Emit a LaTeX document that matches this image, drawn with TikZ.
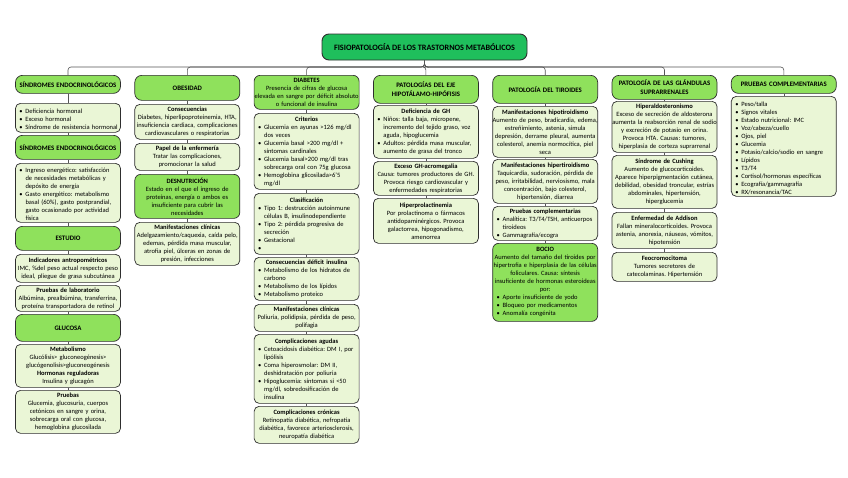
\documentclass[tikz,border=0pt]{standalone}
\usepackage{fontspec}
\setmainfont{Carlito}
\frenchspacing
\definecolor{hdrc}{HTML}{8FE15C}
\definecolor{boxc}{HTML}{EAF6D6}
\definecolor{titlec}{HTML}{1FBF5C}
\definecolor{bordc}{HTML}{2E2E2E}
\definecolor{linec}{HTML}{555555}
\newcommand{\bitem}{\par\leftskip=14.5pt\noindent\hspace*{-6pt}\makebox[6pt][l]{\textbullet}}
\newcommand{\nl}{\hfil\break}
\newcommand{\ctit}[1]{{\centering\textbf{#1}\par}}
\newcommand{\bx}[6]{\node[#2, minimum height={#5-#4}, anchor=north] (#1) at (#3,#4) {#6\par};}
\begin{document}
\begin{tikzpicture}[x=1pt,y=-1pt,
  base/.style={draw=bordc, line width=0.7pt, rounded corners=5pt, text width=114pt, inner xsep=-4.5pt, inner ysep=1pt, font=\fontsize{6.5}{8.0}\selectfont},
  hdr/.style={base, fill=hdrc, rounded corners=7pt, align=center, font=\bfseries\fontsize{6.8}{8.6}\selectfont},
  cbox/.style={base, fill=boxc, align=center},
  lbox/.style={base, fill=boxc, execute at begin node={\raggedright\hyphenpenalty=10000}},
  dbox/.style={base, fill=hdrc, rounded corners=6pt, align=center},
  dlbox/.style={base, fill=hdrc, rounded corners=6pt, execute at begin node={\raggedright\hyphenpenalty=10000}},
  conn/.style={draw=linec, line width=0.6pt},
  titlebox/.style={draw=bordc, line width=0.9pt, fill=titlec, rounded corners=7pt, minimum width=205pt, minimum height=26pt, font=\bfseries\fontsize{8.2}{9}\selectfont}
]
\useasboundingbox[fill=white] (0,0) rectangle (848,477);
\def\xA{68}\def\xB{187.3}\def\xC{306.6}\def\xD{425.9}\def\xE{545.2}\def\xF{664.5}\def\xG{783.8}

\node[titlebox] (title) at (424.5,47) {FISIOPATOLOGÍA DE LOS TRASTORNOS METABÓLICOS};
\coordinate (bus) at (424.5,67);

% Column 1
\bx{h1a}{hdr}{\xA}{75}{93}{SÍNDROMES ENDOCRINOLÓGICOS}
\bx{b1a}{lbox}{\xA}{103}{132}{\bitem Deficiencia hormonal\bitem Exceso hormonal\bitem Síndrome de resistencia hormonal}
\bx{h1b}{hdr}{\xA}{135}{159}{SÍNDROMES ENDOCRINOLÓGICOS}
\bx{b1b}{lbox}{\xA}{163}{222}{\bitem Ingreso energético: satisfacción\nl de necesidades metabólicas y\nl depósito de energía\bitem Gasto energético: metabolismo\nl basal (60\%), gasto postprandial,\nl gasto ocasionado por actividad\nl física}
\bx{h1c}{hdr}{\xA}{226}{250}{ESTUDIO}
\bx{b1c}{cbox}{\xA}{254}{282}{\textbf{Indicadores antropométricos}\\IMC, \%del peso actual respecto peso\\ideal, pliegue de grasa subcutánea}
\bx{b1d}{cbox}{\xA}{285}{311}{\textbf{Pruebas de laboratorio}\\Albúmina, prealbúmina, transferrina,\\proteína transportadora de retinol}
\bx{h1d}{hdr}{\xA}{314}{341}{GLUCOSA}
\bx{b1e}{cbox}{\xA}{344}{387}{\textbf{Metabolismo}\\Glucólisis> gluconeogénesis>\\glucógenolisis>gluconeogénesis\\\textbf{Hormonas reguladoras}\\Insulina y glucagón}
\bx{b1f}{cbox}{\xA}{390}{433}{\textbf{Pruebas}\\Glucemia, glucosuria, cuerpos\\cetónicos en sangre y orina,\\sobrecarga oral con glucosa,\\hemoglobina glucosilada}

% Column 2
\bx{h2a}{hdr}{\xB}{75}{100}{OBESIDAD}
\bx{b2a}{cbox}{\xB}{104}{139}{\textbf{Consecuencias}\\Diabetes, hiperlipoproteinemia, HTA,\\insuficiencia cardiaca, complicaciones\\cardiovasculares o respiratorias}
\bx{b2b}{cbox}{\xB}{143}{170}{\textbf{Papel de la enfermería}\\Tratar las complicaciones,\\promocionar la salud}
\bx{h2b}{dbox}{\xB}{174}{218}{\textbf{DESNUTRICIÓN}\\Estado en el que el ingreso de\\proteínas, energía o ambos es\\insuficiente para cubrir las\\necesidades}
\bx{b2c}{cbox}{\xB}{222}{265}{\textbf{Manifestaciones clínicas}\\Adelgazamiento/caquexia, caída pelo,\\edemas, pérdida masa muscular,\\atrofia piel, úlceras en zonas de\\presión, infecciones}

% Column 3
\bx{h3a}{dbox}{\xC}{75}{109}{\textbf{DIABETES}\\Presencia de cifras de glucosa\\elevada en sangre por déficit absoluto\\o funcional de insulina}
\bx{b3a}{lbox}{\xC}{113}{189}{\ctit{Criterios}\bitem Glucemia en ayunas >126 mg/dl\nl dos veces\bitem Glucemia basal >200 mg/dl +\nl síntomas cardinales\bitem Glucemia basal>200 mg/dl tras\nl sobrecarga oral con 75g glucosa\bitem Hemoglobina glicosilada>6'5\nl mg/dl}
\bx{b3b}{lbox}{\xC}{193}{254}{\ctit{Clasificación}\bitem Tipo 1: destrucción autoinmune\nl células B, insulinodependiente\bitem Tipo 2: pérdida progresiva de\nl secreción\bitem Gestacional\bitem\mbox{}}
\bx{b3c}{lbox}{\xC}{257}{300}{\ctit{Consecuencias déficit insulina}\bitem Metabolismo de los hidratos de\nl carbono\bitem Metabolismo de los lípidos\bitem Metabolismo proteico}
\bx{b3d}{cbox}{\xC}{304}{331}{\textbf{Manifestaciones clínicas}\\Poliuria, polidipsia, pérdida de peso,\\polifagia}
\bx{b3e}{lbox}{\xC}{334}{403}{\ctit{Complicaciones agudas}\bitem Cetoacidosis diabética: DM I, por\nl lipólisis\bitem Coma hiperosmolar: DM II,\nl deshidratación por poliuria\bitem Hipoglucemia: síntomas si <50\nl mg/dl, sobredosificación de\nl insulina}
\bx{b3f}{cbox}{\xC}{406}{443}{\textbf{Complicaciones crónicas}\\Retinopatía diabética, nefropatía\\diabética, favorece arteriosclerosis,\\neuropatía diabética}

% Column 4
\bx{h4a}{hdr}{\xD}{75}{103}{PATOLOGÍAS DEL EJE\\HIPOTÁLAMO-HIPÓFISIS}
\bx{b4a}{lbox}{\xD}{105}{158}{\ctit{Deficiencia de GH}\bitem Niños: talla baja, micropene,\nl incremento del tejido graso, voz\nl aguda, hipoglucemia\bitem Adultos: pérdida masa muscular,\nl aumento de grasa del tronco}
\bx{b4b}{cbox}{\xD}{161}{195}{\textbf{Exceso GH-acromegalia}\\Causa: tumores productores de GH.\\Provoca riesgo cardiovascular y\\enfermedades respiratorias}
\bx{b4c}{cbox}{\xD}{198}{243}{\textbf{Hiperprolactinemia}\\Por prolactinoma o fármacos\\antidopaminérgicos. Provoca\\galactorrea, hipogonadismo,\\amenorrea}

% Column 5
\bx{h5a}{hdr}{\xE}{75}{103}{PATOLOGÍA DEL TIROIDES}
\bx{b5a}{cbox}{\xE}{106}{157}{\textbf{Manifestaciones hipotiroidismo}\\Aumento de peso, bradicardia, edema,\\estreñimiento, astenia, simula\\depresión, derrame pleural, aumenta\\colesterol, anemia normocítica, piel\\seca}
\bx{b5b}{cbox}{\xE}{159}{203}{\textbf{Manifestaciones hipertiroidismo}\\Taquicardia, sudoración, pérdida de\\peso, irritabilidad, nerviosismo, mala\\concentración, bajo colesterol,\\hipertensión, diarrea}
\bx{b5c}{lbox}{\xE}{206}{240}{\ctit{Pruebas complementarias}\bitem Analítica: T3/T4/TSH, anticuerpos\nl tiroideos\bitem Gammagrafía/ecogra}
\bx{h5b}{dlbox}{\xE}{243}{321}{{\centering\textbf{BOCIO}\\Aumento del tamaño del tiroides por\\hipertrofia e hiperplasia de las células\\foliculares. Causa: síntesis\\insuficiente de hormonas esteroideas\\por:\par}\bitem Aporte insuficiente de yodo\bitem Bloqueo por medicamentos\bitem Anomalía congénita}

% Column 6
\bx{h6a}{hdr}{\xF}{75}{99}{PATOLOGÍA DE LAS GLÁNDULAS\\SUPRARRENALES}
\bx{b6a}{cbox}{\xF}{101}{152}{\textbf{Hiperaldosteronismo}\\Exceso de secreción de aldosterona\\aumenta la reabsorción renal de sodio\\y excreción de potasio en orina.\\Provoca HTA. Causas: tumores,\\hiperplasia de corteza suprarrenal}
\bx{b6b}{cbox}{\xF}{155}{208}{\textbf{Síndrome de Cushing}\\Aumento de glucocorticoides.\\Aparece hiperpigmentación cutánea,\\debilidad, obesidad troncular, estrías\\abdominales, hipertensión,\\hiperglucemia}
\bx{b6c}{cbox}{\xF}{212}{248}{\textbf{Enfermedad de Addison}\\Fallan mineralocorticoides. Provoca\\astenia, anorexia, náuseas, vómitos,\\hipotensión}
\bx{b6d}{cbox}{\xF}{252}{281}{\textbf{Feocromocitoma}\\Tumores secretores de\\catecolaminas. Hipertensión}

% Column 7
\bx{h7a}{hdr}{\xG}{75}{93}{PRUEBAS COMPLEMENTARIAS}
\bx{b7a}{lbox}{\xG}{96}{196}{\bitem Peso/talla\bitem Signos vitales\bitem Estado nutricional: IMC\bitem Voz/cabeza/cuello\bitem Ojos, piel\bitem Glucemia\bitem Potasio/calcio/sodio en sangre\bitem Lípidos\bitem T3/T4\bitem Cortisol/hormonas específicas\bitem Ecografía/gammagrafía\bitem RX/resonancia/TAC}

% Connectors from title
\foreach \h in {h1a,h2a,h3a,h4a,h5a,h6a,h7a}
  \draw[conn, rounded corners=3pt] (title.south) |- (\h.north |- bus) -- (\h.north);

% Column chains
\foreach \a/\b in {h1a/b1a,b1a/h1b,h1b/b1b,b1b/h1c,h1c/b1c,b1c/b1d,b1d/h1d,h1d/b1e,b1e/b1f,
  h2a/b2a,b2a/b2b,b2b/h2b,h2b/b2c,
  h3a/b3a,b3a/b3b,b3b/b3c,b3c/b3d,b3d/b3e,b3e/b3f,
  h4a/b4a,b4a/b4b,b4b/b4c,
  h5a/b5a,b5a/b5b,b5b/b5c,b5c/h5b,
  h6a/b6a,b6a/b6b,b6b/b6c,b6c/b6d,
  h7a/b7a}
  \draw[conn] (\a.south) -- (\b.north);
\end{tikzpicture}
\end{document}
